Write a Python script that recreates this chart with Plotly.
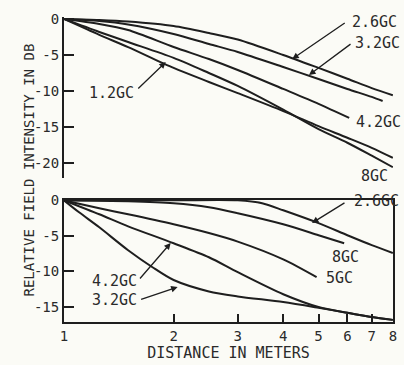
import plotly.graph_objects as go
from plotly.subplots import make_subplots

# top panel: relative field intensity (dB) vs distance (m)
top_x = [1, 1.25, 1.5, 2, 2.5, 3, 4, 5, 6, 7, 8]
top_y_26 = [0, -0.14, -0.35, -0.97, -1.94, -2.85, -5.0, -6.8, -8.3, -9.6, -10.6]
top_x_32 = [1, 1.25, 1.5, 2, 2.5, 3, 4, 5, 6, 7, 7.5]
top_y_32 = [0, -0.28, -0.76, -2.08, -3.47, -4.58, -6.67, -8.33, -9.72, -10.83, -11.4]
top_x_42 = [1, 1.25, 1.5, 2, 2.5, 3, 4, 5, 6.07]
top_y_42 = [0, -0.69, -1.53, -3.89, -5.56, -7.08, -9.72, -11.8, -13.75]
top_y_8 = [0, -1.8, -3.2, -5.4, -7.5, -9.3, -12.6, -15.3, -17.2, -19.0, -20.6]
top_y_12 = [0, -2.2, -3.9, -6.8, -8.75, -10.3, -12.8, -14.9, -16.5, -17.9, -19.3]

# bottom panel
bot_x_26 = [1, 2, 3, 3.5, 4, 5, 6, 7, 8]
bot_y_26 = [0, 0, 0, -0.4, -1.4, -3.2, -4.9, -6.3, -7.4]
bot_x_8 = [1, 1.5, 2, 2.5, 3, 4, 5, 5.88]
bot_y_8 = [0, -0.14, -0.42, -0.98, -1.82, -3.37, -4.9, -6.03]
bot_x_5 = [1, 1.25, 1.5, 2, 2.5, 3, 4, 4.94]
bot_y_5 = [0, -1.12, -1.96, -3.37, -4.6, -5.8, -8.3, -10.8]
bot_x_42 = [1, 1.25, 1.5, 2, 2.5, 3, 4, 5, 6, 7, 8]
bot_y_42 = [0, -1.96, -3.65, -6.03, -8.0, -10.1, -13.2, -15.0, -15.8, -16.4, -16.8]
bot_x_32 = [1, 1.1, 1.25, 1.5, 1.75, 2, 2.5, 3, 4, 5, 6, 7, 8]
bot_y_32 = [0, -1.68, -3.79, -7.01, -9.4, -11.2, -12.8, -13.5, -14.3, -15.1, -15.8, -16.4, -16.8]

x_ticks = [1, 2, 3, 4, 5, 6, 7, 8]
x_ticktext = ["1", "2", "3", "4", "5", "6", "7", "8"]
top_yticks = [0, -5, -10, -15, -20]
bot_yticks = [0, -5, -10, -15]

W, H = 404, 365
L, R, T, B = 64, 7, 17, 43
PW, PH = W - L - R, H - T - B

def px(x, y):
    return (x - L) / PW, (H - B - y) / PH

INK = "#1e1e1e"
BG = "#fbfbf6"
FONT = dict(family="DejaVu Sans Mono", size=15, color="#2a2a2a")
TICKFONT = dict(family="DejaVu Sans Mono", size=14, color="#2a2a2a")

fig = make_subplots(rows=2, cols=1)
line = dict(color=INK, width=2, shape="spline", smoothing=0.8)

for xs, ys in [(top_x, top_y_26), (top_x_32, top_y_32), (top_x_42, top_y_42),
               (top_x, top_y_8), (top_x, top_y_12)]:
    fig.add_trace(go.Scatter(x=xs, y=ys, mode="lines", line=line), row=1, col=1)
for xs, ys in [(bot_x_26, bot_y_26), (bot_x_8, bot_y_8), (bot_x_5, bot_y_5),
               (bot_x_42, bot_y_42), (bot_x_32, bot_y_32)]:
    fig.add_trace(go.Scatter(x=xs, y=ys, mode="lines", line=line), row=2, col=1)

axis_common = dict(showgrid=False, zeroline=False, showline=True, linecolor=INK,
                   linewidth=2, ticks="inside", tickcolor=INK, tickwidth=1.5,
                   tickfont=TICKFONT)
y0, y1 = px(0, 178)[1], px(0, 17)[1]
fig.update_layout(
    width=W, height=H, margin=dict(l=L, r=R, t=T, b=B),
    paper_bgcolor=BG, plot_bgcolor=BG, showlegend=False, font=FONT,
    xaxis=dict(type="log", range=[0, 0.9035], domain=[0, 1], visible=False),
    yaxis=dict(range=[-22.1, 0.28], domain=[y0, y1], ticklen=10, tickvals=top_yticks,
               ticktext=["0", "-5", "-10", "-15", "-20"], **axis_common),
    xaxis2=dict(type="log", range=[0, 0.9035], domain=[0, 1], mirror=True, ticklen=8,
                tickvals=x_ticks, ticktext=x_ticktext, ticklabeloverflow="allow",
                title=dict(text="DISTANCE IN METERS", standoff=4, font=FONT),
                **axis_common),
    yaxis2=dict(range=[-17.1, 0.05], domain=[0, px(0, 200)[1]], mirror=True,
                ticklen=10, tickvals=bot_yticks, ticktext=["0", "-5", "-10", "-15"],
                **axis_common),
)

labels = [
    ("2.6GC", 353, 22), ("3.2GC", 357, 43), ("4.2GC", 358, 122), ("8GC", 363, 176),
    ("1.2GC", 87, 93),
    ("2.6GC", 356, 201), ("8GC", 333, 257), ("5GC", 327, 278),
    ("4.2GC", 90, 281), ("3.2GC", 90, 300),
]
for txt, x, y in labels:
    xp, yp = px(x, y)
    fig.add_annotation(text=txt, x=xp, y=yp, xref="paper", yref="paper",
                       xanchor="left", yanchor="middle", showarrow=False, font=FONT)

arrows = [
    ((349, 22), (295, 59)), ((355, 43), (312, 75)), ((138, 90), (167, 62)),
    ((349, 202), (315, 223)), ((140, 280), (172, 243)), ((141, 300), (179, 287)),
]
for (tx, ty), (hx, hy) in arrows:
    xp, yp = px(hx, hy)
    fig.add_annotation(text="", x=xp, y=yp, xref="paper", yref="paper",
                       ax=tx - hx, ay=ty - hy, showarrow=True, arrowhead=2,
                       arrowsize=1, arrowwidth=1.3, arrowcolor=INK)

ttl_x, ttl_y = px(18, 170)
fig.add_annotation(text="RELATIVE FIELD INTENSITY IN DB", x=ttl_x, y=ttl_y,
                   xref="paper", yref="paper", textangle=-90, showarrow=False,
                   font=dict(family="DejaVu Sans Mono", size=14, color="#2a2a2a"))

# page body has a default margin; drop it so the figure sits at the window origin
fig.write_html("out.html", config={"displayModeBar": False},
               post_script="document.body.style.margin='0';")
